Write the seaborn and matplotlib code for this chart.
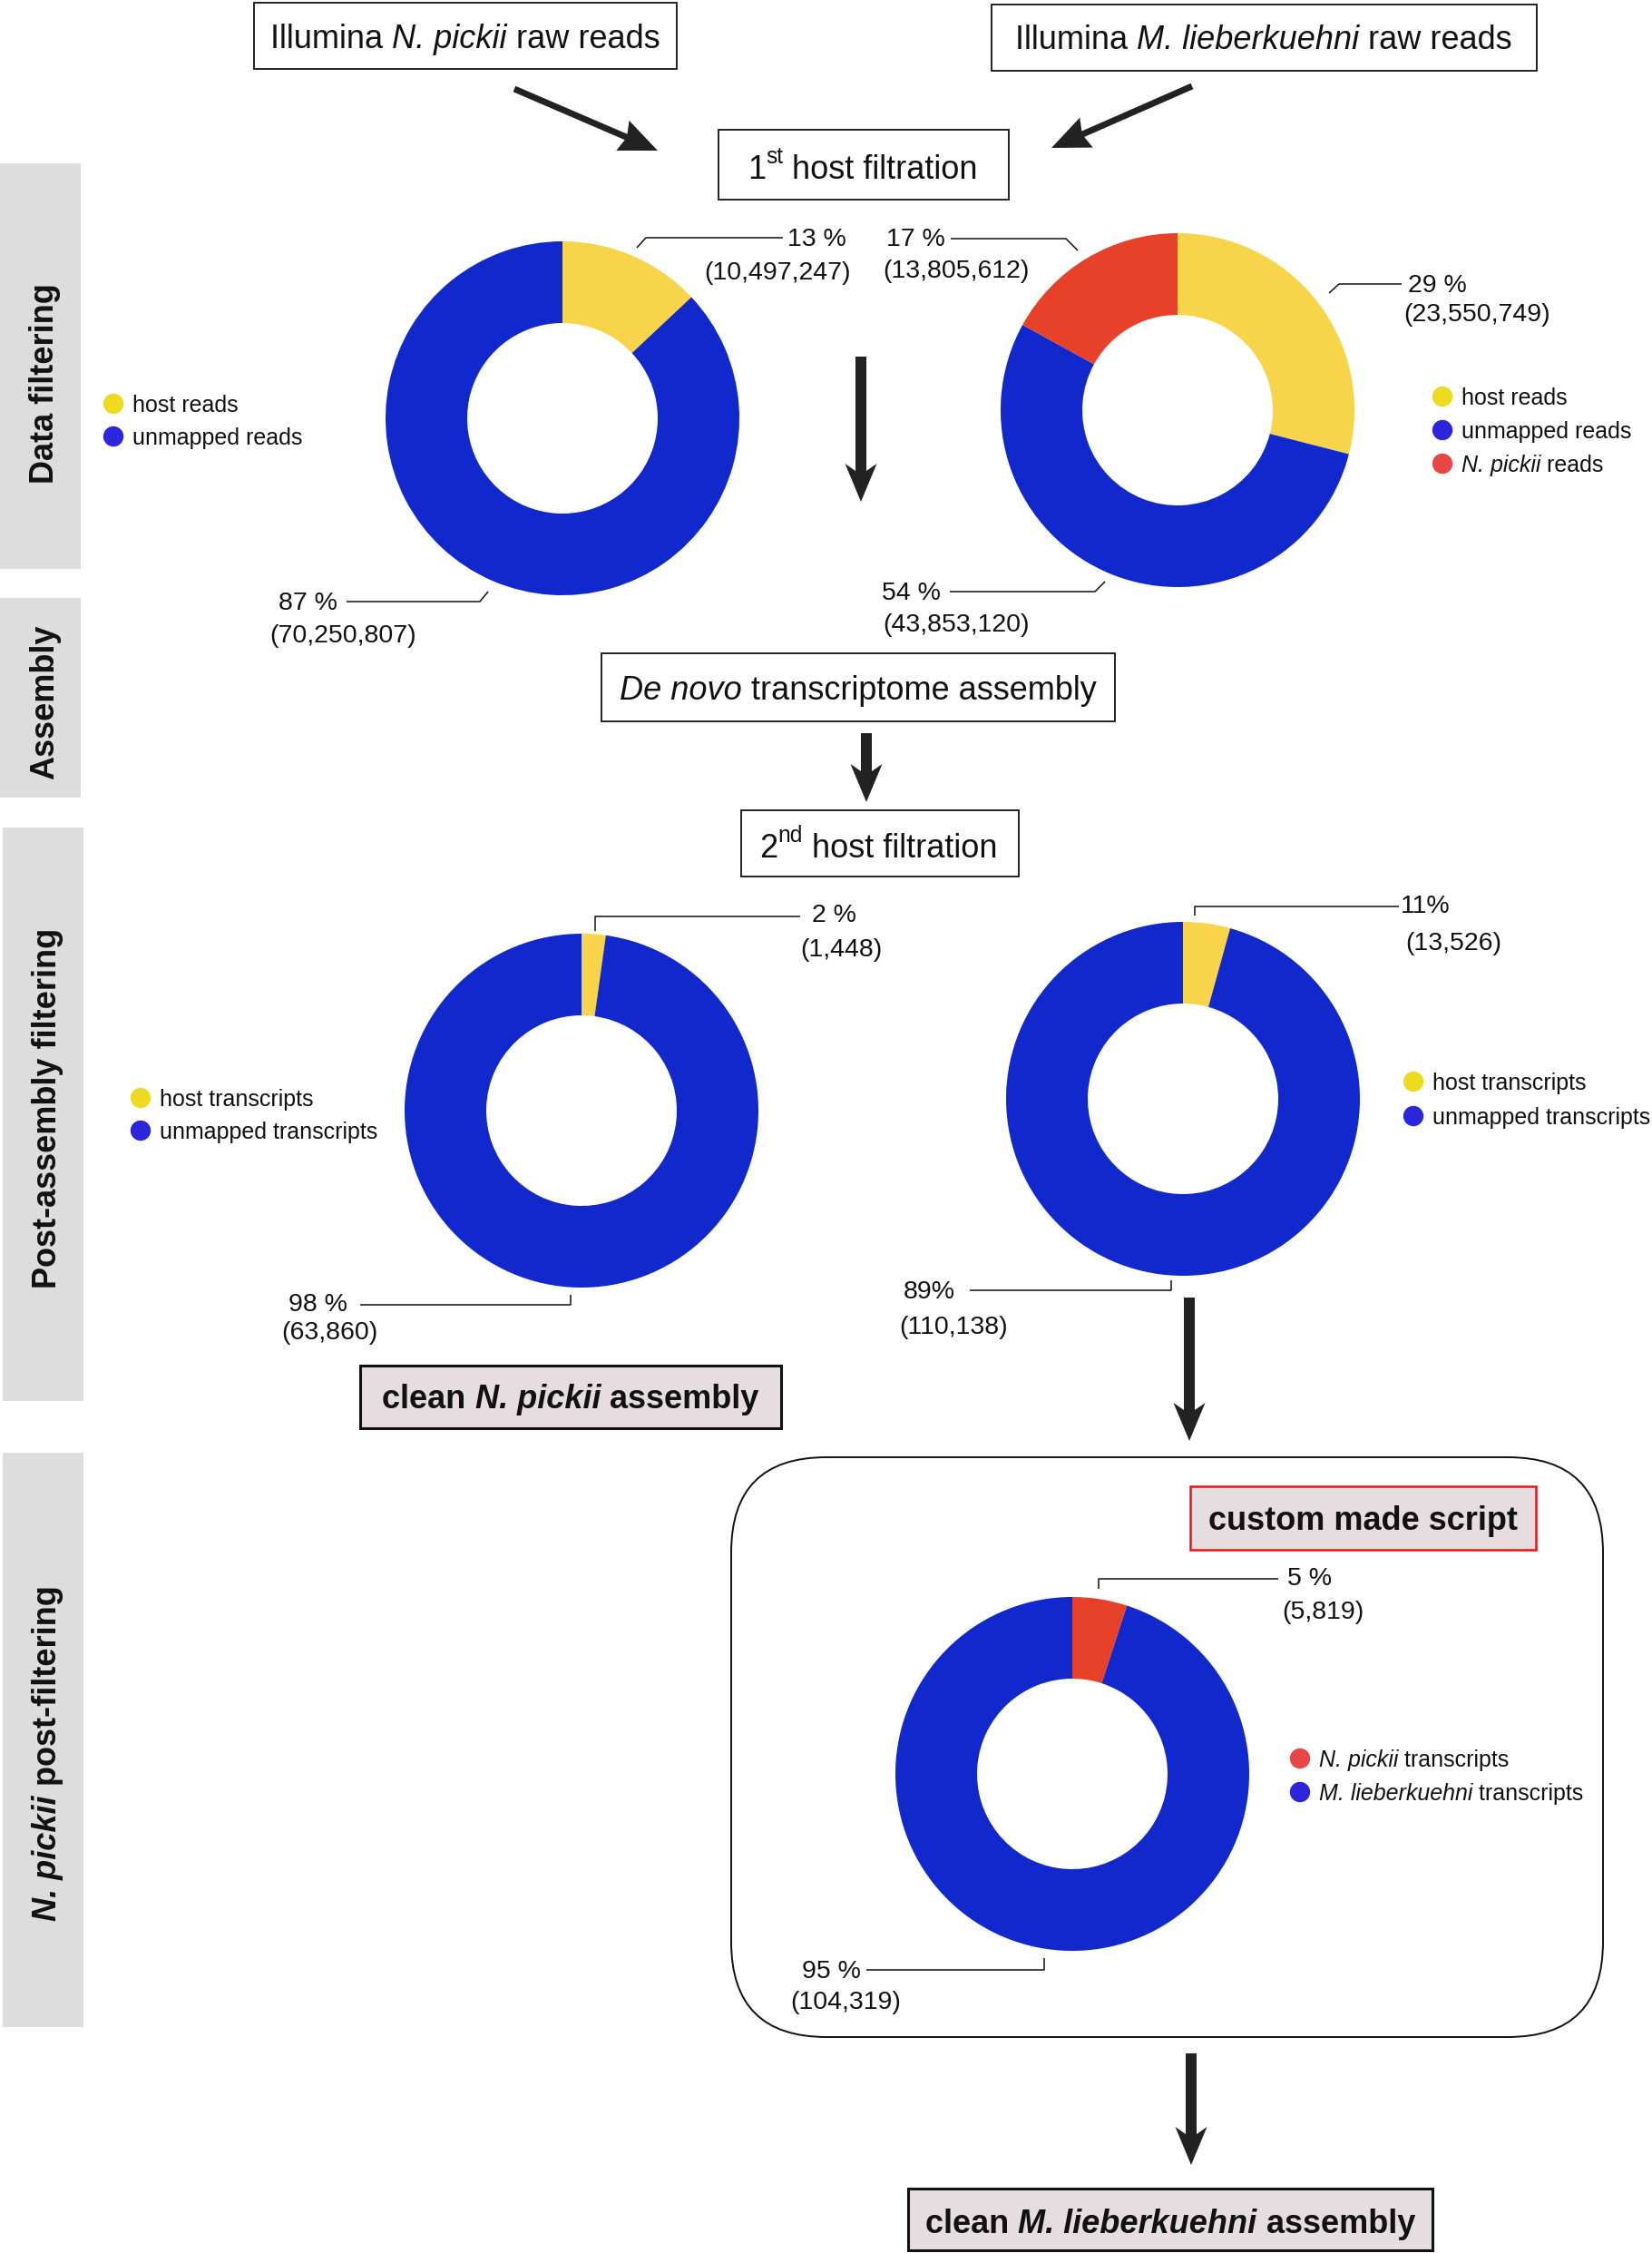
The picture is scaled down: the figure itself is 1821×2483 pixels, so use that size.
import re
import matplotlib
matplotlib.use('Agg')
import matplotlib.pyplot as plt
import matplotlib.patches as mpatches
import seaborn as sns

sns.set_theme(style='white')
plt.rcParams['font.family'] = ['Liberation Sans', 'DejaVu Sans']

W, H = 1821, 2483

# Data
# 1st host filtration, N. pickii raw reads
np_raw_labels = ['host reads', 'unmapped reads']
np_raw_share = [13, 87]
np_raw_pct = ['13 %', '87 %']
np_raw_counts = [10497247, 70250807]

# 1st host filtration, M. lieberkuehni raw reads
ml_raw_labels = ['host reads', 'unmapped reads', '*N. pickii* reads']
ml_raw_share = [29, 54, 17]
ml_raw_pct = ['29 %', '54 %', '17 %']
ml_raw_counts = [23550749, 43853120, 13805612]

# 2nd host filtration, N. pickii assembly
np_asm_labels = ['host transcripts', 'unmapped transcripts']
np_asm_share = [2.2, 97.8]
np_asm_pct = ['2 %', '98 %']
np_asm_counts = [1448, 63860]

# 2nd host filtration, M. lieberkuehni assembly (slice as drawn in the figure)
ml_asm_labels = ['host transcripts', 'unmapped transcripts']
ml_asm_share = [4.3, 95.7]
ml_asm_pct = ['11%', '89%']
ml_asm_counts = [13526, 110138]

# custom made script
final_labels = ['*N. pickii* transcripts', '*M. lieberkuehni* transcripts']
final_share = [5, 95]
final_pct = ['5 %', '95 %']
final_counts = [5819, 104319]

section_labels = ['Data filtering', 'Assembly', 'Post-assembly filtering',
                  '*N. pickii* post-filtering']

# colours
BLUE, YELLOW, RED = '#1028cc', '#f7d44a', '#e8412a'
DOT_BLUE, DOT_YELLOW, DOT_RED = '#2b25dc', '#eedb1f', '#e84646'
GREY_BAR = '#dddddd'
PINK_FILL = '#e6dde0'
INK = '#111111'

fig = plt.figure(figsize=(W / 100, H / 100), dpi=100)
ax = fig.add_axes([0, 0, 1, 1])
ax.set_xlim(0, W)
ax.set_ylim(H, 0)
ax.set_aspect('equal')
renderer = fig.canvas.get_renderer()


def text_width(s, **kw):
    t1 = ax.text(0, 0, '|' + s + '|', **kw)
    t2 = ax.text(0, 0, '||', **kw)
    w = t1.get_window_extent(renderer).width - t2.get_window_extent(renderer).width
    t1.remove()
    t2.remove()
    return w


def rich(x, y, s, size, weight='normal', ha='center', rotation=0):
    # *..* -> italic, ^..^ -> superscript; y is middle of the cap height
    items = []
    for p in [p for p in re.split(r'(\*[^*]+\*|\^[^^]+\^)', s) if p]:
        style, fs, rise = 'normal', size, 0
        if p.startswith('*'):
            p, style = p[1:-1], 'italic'
        elif p.startswith('^'):
            p, fs, rise = p[1:-1], size * 0.68, size * 0.46 * 100 / 72
        kw = dict(fontsize=fs, fontweight=weight, fontstyle=style, color=INK)
        items.append((p, kw, rise, text_width(p, **kw)))
    total = sum(i[3] for i in items)
    cap = 0.716 * size * 100 / 72
    if rotation == 0:
        cx = x - total / 2 if ha == 'center' else x
        for p, kw, rise, w in items:
            ax.text(cx, y + cap / 2 - rise, p, ha='left', va='baseline', **kw)
            cx += w
    else:
        cy = y + total / 2
        for p, kw, rise, w in items:
            ax.text(x + cap / 2 - rise, cy, p, ha='left', va='baseline',
                    rotation=90, rotation_mode='anchor', **kw)
            cy -= w


def box(x0, y0, x1, y1, lw=1.3, ec=INK, fc='white'):
    ax.add_patch(mpatches.Rectangle((x0, y0), x1 - x0, y1 - y0, lw=lw,
                                    ec=ec, fc=fc, zorder=2))


def arrow(x0, y0, x1, y1, shaft, head_w, head_l, notch=6):
    L = ((x1 - x0) ** 2 + (y1 - y0) ** 2) ** 0.5
    ux, uy = (x1 - x0) / L, (y1 - y0) / L
    nx, ny = -uy, ux
    bx, by = x1 - ux * (head_l - notch), y1 - uy * (head_l - notch)
    hx, hy = x1 - ux * head_l, y1 - uy * head_l
    pts = [(x0 + nx * shaft / 2, y0 + ny * shaft / 2),
           (bx + nx * shaft / 2, by + ny * shaft / 2),
           (hx + nx * head_w / 2, hy + ny * head_w / 2),
           (x1, y1),
           (hx - nx * head_w / 2, hy - ny * head_w / 2),
           (bx - nx * shaft / 2, by - ny * shaft / 2),
           (x0 - nx * shaft / 2, y0 - ny * shaft / 2)]
    ax.add_patch(mpatches.Polygon(pts, closed=True, fc='#222222', ec='none', zorder=3))


def donut(cx, cy, shares, colors):
    # y axis is inverted: counterclock in data = clockwise on screen
    ax.pie(shares, colors=colors, radius=195, center=(cx, cy), startangle=-90,
           counterclock=True, frame=True,
           wedgeprops=dict(width=90, linewidth=0, antialiased=True))


def leader(pts):
    xs, ys = zip(*pts)
    ax.plot(xs, ys, color=INK, lw=1.1, solid_capstyle='butt', zorder=3)


def labels(pct, count, px, py, cxc, cyc):
    ax.text(px, py, pct, ha='left', va='center', fontsize=20.5, color=INK)
    ax.text(cxc, cyc, f'({count:,})', ha='center', va='center', fontsize=20.5, color=INK)


def legend(x, ys, labs, colors):
    sns.scatterplot(x=[x] * len(ys), y=ys, hue=list(range(len(ys))),
                    palette=colors, s=260, linewidth=0, legend=False, ax=ax, zorder=4)
    for y, lab in zip(ys, labs):
        rich(x + 21, y, lab, 18, ha='left')


# section bars on the left
for (x0, y0, x1, y1), yc, lab in zip([(0, 180, 89, 627), (0, 659, 89, 879),
                                      (3, 912, 92, 1544), (3, 1601, 92, 2234)],
                                     [423, 774, 1221, 1932], section_labels):
    ax.add_patch(mpatches.Rectangle((x0, y0), x1 - x0, y1 - y0, fc=GREY_BAR,
                                    ec='none', zorder=1))
    rich((x0 + x1) / 2 + 2, yc, lab, 26, weight='bold', rotation=90)

# top boxes and arrows
box(280, 3, 746, 76)
rich(513, 40, 'Illumina *N. pickii* raw reads', 26)
box(1093, 5, 1694, 78)
rich(1393, 41, 'Illumina *M. lieberkuehni* raw reads', 26)
arrow(567, 98, 725, 166, 7, 36, 42, notch=4)
arrow(1314, 95, 1159, 163, 7, 36, 42, notch=4)
box(792, 143, 1112, 220)
rich(951, 184, '1^st^ host filtration', 26)

# first donuts
donut(620, 461, np_raw_share, [YELLOW, BLUE])
leader([(702, 273), (712, 262), (863, 262)])
labels(np_raw_pct[0], np_raw_counts[0], 868, 264, 857, 301)
leader([(382, 663), (529, 663), (538, 652)])
labels(np_raw_pct[1], np_raw_counts[1], 307, 665, 378, 701)
legend(125, [445, 481], np_raw_labels, [DOT_YELLOW, DOT_BLUE])

donut(1298, 452, ml_raw_share, [YELLOW, BLUE, RED])
leader([(1465, 323), (1476, 313), (1545, 313)])
labels(ml_raw_pct[0], ml_raw_counts[0], 1552, 315, 1628, 347)
leader([(1047, 652), (1207, 652), (1218, 641)])
labels(ml_raw_pct[1], ml_raw_counts[1], 972, 654, 1054, 689)
leader([(1048, 263), (1175, 263), (1188, 276)])
labels(ml_raw_pct[2], ml_raw_counts[2], 977, 264, 1054, 299)
legend(1590, [437, 474, 511], ml_raw_labels, [DOT_YELLOW, DOT_BLUE, DOT_RED])

arrow(949, 393, 949, 553, 12, 35, 42, notch=8)

# assembly
box(663, 720, 1229, 795)
rich(946, 758, '*De novo* transcriptome assembly', 26)
arrow(955, 808, 955, 884, 12, 35, 42, notch=8)
box(817, 893, 1123, 966)
rich(968, 932, '2^nd^ host filtration', 26)

# post-assembly donuts
donut(641, 1224, np_asm_share, [YELLOW, BLUE])
leader([(656, 1026), (656, 1010), (882, 1010)])
labels(np_asm_pct[0], np_asm_counts[0], 895, 1009, 927, 1047)
leader([(397, 1438), (629, 1438), (629, 1427)])
labels(np_asm_pct[1], np_asm_counts[1], 318, 1438, 363, 1469)
legend(155, [1210, 1246], np_asm_labels, [DOT_YELLOW, DOT_BLUE])

donut(1304, 1211, ml_asm_share, [YELLOW, BLUE])
leader([(1317, 1009), (1317, 999), (1542, 999)])
labels(ml_asm_pct[0], ml_asm_counts[0], 1544, 999, 1602, 1040)
leader([(1069, 1422), (1291, 1422), (1291, 1411)])
labels(ml_asm_pct[1], ml_asm_counts[1], 996, 1424, 1051, 1463)
legend(1558, [1192, 1230], ml_asm_labels, [DOT_YELLOW, DOT_BLUE])

box(397, 1505, 861, 1574, lw=2.2, fc=PINK_FILL)
rich(629, 1539, 'clean *N. pickii* assembly', 26, weight='bold')

arrow(1311, 1430, 1311, 1588, 12, 35, 42, notch=8)

# custom made script panel
ax.add_patch(mpatches.FancyBboxPatch((806, 1606), 961, 639,
                                     boxstyle='round,pad=0,rounding_size=105',
                                     lw=1.4, ec=INK, fc='white', zorder=1))
box(1312, 1638, 1693, 1708, lw=1.8, ec='#ee1111', fc=PINK_FILL)
rich(1502, 1673, 'custom made script', 26, weight='bold')

donut(1182, 1955, final_share, [RED, BLUE])
leader([(1211, 1751), (1211, 1740), (1409, 1740)])
labels(final_pct[0], final_counts[0], 1419, 1740, 1458, 1777)
leader([(955, 2171), (1151, 2171), (1151, 2158)])
labels(final_pct[1], final_counts[1], 884, 2173, 932, 2207)
legend(1433, [1938, 1975], final_labels, [DOT_RED, DOT_BLUE])

arrow(1313, 2263, 1313, 2386, 12, 35, 42, notch=8)
box(1001, 2412, 1579, 2480, lw=2.2, fc=PINK_FILL)
rich(1290, 2448, 'clean *M. lieberkuehni* assembly', 26, weight='bold')

ax.set_xlim(0, W)
ax.set_ylim(H, 0)
ax.set_axis_off()
fig.savefig('out.png', dpi=100, facecolor='white')
